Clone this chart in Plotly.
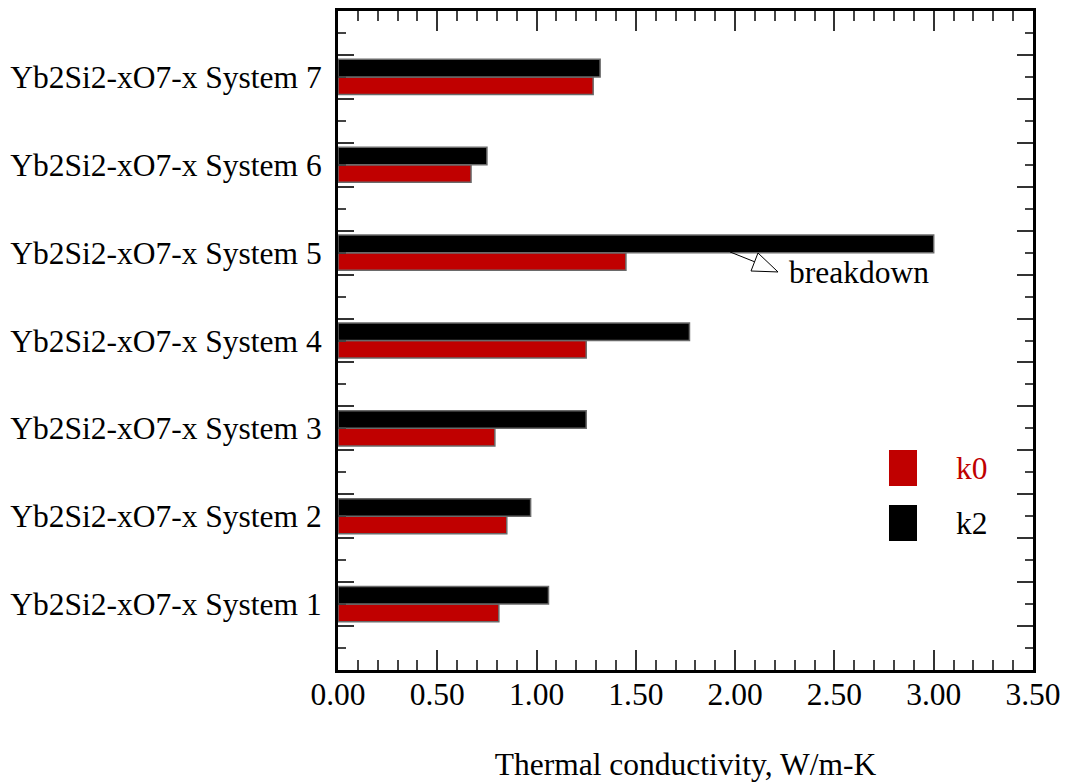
import plotly.graph_objects as go

systems = [f"Yb2Si2-xO7-x System {i}" for i in range(1, 8)]
positions = [1, 2, 3, 4, 5, 6, 7]
k0 = [0.81, 0.85, 0.79, 1.25, 1.45, 0.67, 1.285]
k2 = [1.06, 0.97, 1.25, 1.77, 3.00, 0.75, 1.32]
x_ticks = [0.0, 0.5, 1.0, 1.5, 2.0, 2.5, 3.0, 3.5]
x_labels = ["0.00", "0.50", "1.00", "1.50", "2.00", "2.50", "3.00", "3.50"]

RED = "#C00000"
FONT = "Liberation Serif, Times New Roman, serif"
FS = 31.5

fig = go.Figure()
fig.add_trace(go.Bar(y=positions, x=k0, orientation="h", name="k0",
                     marker=dict(color=RED, line=dict(color="#6a6a6a", width=1.5))))
fig.add_trace(go.Bar(y=positions, x=k2, orientation="h", name="k2",
                     marker=dict(color="#000000", line=dict(color="#6a6a6a", width=1.5))))

# y ticks: labels at integers (short ticks), short ticks at halves, long ticks at quarters
major_vals = []
major_text = []
for p, s in zip(positions, systems):
    major_vals.append(p)
    major_text.append(s)
for h in [0.5 + i for i in range(8)]:
    major_vals.append(h)
    major_text.append("")
long_vals = [0.75 + 0.5 * i for i in range(14)]

fig.update_layout(
    width=1066, height=782,
    margin=dict(l=338, r=33, t=11, b=112),
    paper_bgcolor="white", plot_bgcolor="white",
    barmode="group", bargap=0.6, bargroupgap=0.0,
    showlegend=False,
    font=dict(family=FONT, size=FS, color="black"),
    xaxis=dict(
        range=[0, 3.5], tickvals=x_ticks, ticktext=x_labels,
        ticks="inside", ticklen=20, tickwidth=1.5, tickcolor="#333",
        showline=True, linecolor="black", linewidth=3, mirror="ticks",
        showgrid=False, zeroline=False, automargin=False,
        tickfont=dict(family=FONT, size=FS),
        ticklabelstandoff=-6,
        minor=dict(dtick=0.1, tick0=0, ticks="inside", ticklen=10,
                   tickwidth=1.5, tickcolor="#444", showgrid=False),
        title=dict(text="Thermal conductivity, W/m-K",
                   font=dict(family=FONT, size=FS), standoff=52),
    ),
    yaxis=dict(
        range=[0.25, 7.75], tickmode="array", tickvals=major_vals, ticktext=major_text,
        ticks="inside", ticklen=8, tickwidth=1.5, tickcolor="#444",
        showline=True, linecolor="black", linewidth=3, mirror="ticks",
        showgrid=False, zeroline=False, automargin=False,
        tickfont=dict(family=FONT, size=FS),
        ticklabelstandoff=7,
        minor=dict(tickmode="array", tickvals=long_vals, ticks="inside", ticklen=16,
                   tickwidth=1.5, tickcolor="#333", showgrid=False),
    ),
)

# Legend drawn manually
legend_items = [("k0", RED, 0.0), ("k2", "#000000", 1.0)]
for name, col, idx in legend_items:
    y_top = 0.3338 - idx * 0.0835
    fig.add_shape(type="rect", xref="paper", yref="paper",
                  x0=0.7928, x1=0.8331, y0=y_top - 0.0546, y1=y_top,
                  fillcolor=col, line=dict(width=0))
    fig.add_annotation(xref="paper", yref="paper", x=0.887, y=y_top - 0.0273,
                       text=name, showarrow=False, xanchor="left", yanchor="middle",
                       font=dict(family=FONT, size=FS, color=col))

# breakdown annotation with hollow arrow
arrow_tail = (1.974, 5.008)
arrow_base = (2.100, 4.894)
arrow_tip = (2.216, 4.780)
head_v1 = (2.115, 4.996)
head_v2 = (2.080, 4.791)
fig.add_shape(type="line", xref="x", yref="y",
              x0=arrow_tail[0], y0=arrow_tail[1], x1=arrow_base[0], y1=arrow_base[1],
              line=dict(color="black", width=1))
fig.add_shape(type="path", xref="x", yref="y",
              path=f"M {head_v1[0]} {head_v1[1]} L {arrow_tip[0]} {arrow_tip[1]} L {head_v2[0]} {head_v2[1]} Z",
              fillcolor="white", line=dict(color="black", width=1))
fig.add_annotation(xref="x", yref="y", x=2.261, y=4.77, text="breakdown",
                   showarrow=False, xanchor="left", yanchor="middle",
                   font=dict(family=FONT, size=FS, color="black"))

fig.write_html("out.html")
